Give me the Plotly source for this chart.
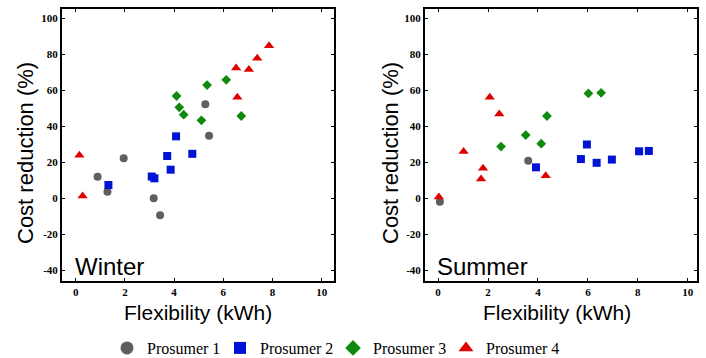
import plotly.graph_objects as go

# ---------------- data ----------------
series_names = ["Prosumer 1", "Prosumer 2", "Prosumer 3", "Prosumer 4"]

winter_p1_x = [0.89, 1.29, 1.95, 3.17, 3.43, 5.27, 5.42]
winter_p1_y = [12.1, 3.8, 22.3, 0.2, -9.3, 52.3, 34.8]
winter_p2_x = [1.33, 3.09, 3.2, 3.72, 3.86, 4.08, 4.74]
winter_p2_y = [7.5, 12.2, 11.2, 23.6, 16.0, 34.5, 24.8]
winter_p3_x = [4.1, 4.21, 4.39, 5.11, 5.34, 6.12, 6.73]
winter_p3_y = [56.9, 50.6, 46.5, 43.4, 63.0, 65.9, 45.8]
winter_p4_x = [0.15, 0.28, 6.52, 6.57, 7.04, 7.38, 7.86]
winter_p4_y = [24.0, 1.4, 72.5, 56.2, 71.6, 77.9, 84.8]

summer_p1_x = [0.07, 3.61]
summer_p1_y = [-1.8, 21.0]
summer_p2_x = [3.92, 5.72, 5.96, 6.35, 6.96, 8.05, 8.44]
summer_p2_y = [17.3, 21.9, 30.0, 19.8, 21.6, 26.2, 26.4]
summer_p3_x = [2.52, 3.51, 4.13, 4.36, 6.02, 6.53]
summer_p3_y = [28.8, 35.2, 30.4, 45.8, 58.3, 58.7]
summer_p4_x = [0.03, 1.02, 1.72, 1.8, 2.07, 2.45, 4.31]
summer_p4_y = [0.9, 26.1, 10.8, 16.8, 56.2, 46.9, 12.6]

x_tick_vals = [0, 2, 4, 6, 8, 10]
x_tick_text = ["0", "2", "4", "6", "8", "10"]
y_tick_vals = [-40, -20, 0, 20, 40, 60, 80, 100]
y_tick_text = ["-40", "-20", "0", "20", "40", "60", "80", "100"]

panel_labels = ["Winter", "Summer"]
x_title = "Flexibility (kWh)"
y_title = "Cost reduction (%)"

# ---------------- style ----------------
colors = ["#5f5f5f", "#0014d6", "#0f8a0f", "#e00000"]
symbols = ["circle", "square", "diamond", "triangle-up"]
sizes = [8, 8, 7.5, 9]
legend_sizes = [13, 12, 12, 13]

fig = go.Figure()

panels = [
    ("x", "y", [(winter_p1_x, winter_p1_y), (winter_p2_x, winter_p2_y),
                (winter_p3_x, winter_p3_y), (winter_p4_x, winter_p4_y)]),
    ("x2", "y2", [(summer_p1_x, summer_p1_y), (summer_p2_x, summer_p2_y),
                  (summer_p3_x, summer_p3_y), (summer_p4_x, summer_p4_y)]),
]
for xa, ya, data in panels:
    for i, (xs, ys) in enumerate(data):
        fig.add_trace(go.Scatter(
            x=xs, y=ys, mode="markers", xaxis=xa, yaxis=ya,
            marker=dict(symbol=symbols[i], color=colors[i], size=sizes[i], line=dict(width=0)),
            showlegend=False, name=series_names[i], hoverinfo="x+y+name"))

# legend entries (one legend per entry so spacing can be set)
legend_ids = ["legend", "legend2", "legend3", "legend4"]
legend_x_px = [107, 220, 333, 446]
for i, name in enumerate(series_names):
    fig.add_trace(go.Scatter(
        x=[None], y=[None], mode="markers", name=name, legend=legend_ids[i],
        marker=dict(symbol=symbols[i], color=colors[i], size=legend_sizes[i], line=dict(width=0)),
        showlegend=True))

W, H = 706, 358
top_px, bot_px = 9, 281
plot_h = bot_px - top_px

def py(p):
    return (bot_px - p) / plot_h

tick_font = dict(family="Liberation Serif", size=11, color="black", weight="bold")
common_axis = dict(
    showline=True, linecolor="black", linewidth=2, mirror="ticks",
    ticks="inside", ticklen=3, tickwidth=1, tickcolor="black",
    showgrid=False, zeroline=False, tickfont=tick_font, automargin=False,
)

fig.update_layout(
    width=W, height=H,
    margin=dict(l=0, r=0, t=top_px, b=H - bot_px, autoexpand=False),
    paper_bgcolor="white", plot_bgcolor="white",
    xaxis=dict(domain=[62 / W, 334 / W], range=[-0.557, 10.5], anchor="y",
               tickvals=x_tick_vals, ticktext=x_tick_text, **common_axis),
    yaxis=dict(domain=[0, 1], range=[-45.8, 105.2], anchor="x",
               tickvals=y_tick_vals, ticktext=y_tick_text, **common_axis),
    xaxis2=dict(domain=[425 / W, 697 / W], range=[-0.525, 10.37], anchor="y2",
                tickvals=x_tick_vals, ticktext=x_tick_text, **common_axis),
    yaxis2=dict(domain=[0, 1], range=[-45.8, 105.2], anchor="x2",
                tickvals=y_tick_vals, ticktext=y_tick_text, **common_axis),
)

leg_common = dict(orientation="h", yanchor="middle", xanchor="left", y=py(348),
                  font=dict(family="Liberation Serif", size=16, color="black"),
                  bgcolor="rgba(0,0,0,0)", borderwidth=0, itemwidth=30)
fig.update_layout(
    legend=dict(x=legend_x_px[0] / W, **leg_common),
    legend2=dict(x=legend_x_px[1] / W, **leg_common),
    legend3=dict(x=legend_x_px[2] / W, **leg_common),
    legend4=dict(x=legend_x_px[3] / W, **leg_common),
)

sans = "Liberation Sans"
anns = [
    dict(text=y_title, x=25 / W, y=py(153), xref="paper", yref="paper", textangle=-90,
         xanchor="center", yanchor="middle",
         showarrow=False, font=dict(family=sans, size=22, color="black")),
    dict(text=y_title, x=390 / W, y=py(153), xref="paper", yref="paper", textangle=-90,
         xanchor="center", yanchor="middle",
         showarrow=False, font=dict(family=sans, size=22, color="black")),
    dict(text=x_title, x=198 / W, y=py(312), xref="paper", yref="paper",
         xanchor="center", yanchor="middle",
         showarrow=False, font=dict(family=sans, size=21, color="black")),
    dict(text=x_title, x=557 / W, y=py(312), xref="paper", yref="paper",
         xanchor="center", yanchor="middle",
         showarrow=False, font=dict(family=sans, size=21, color="black")),
    dict(text=panel_labels[0], x=73 / W, y=py(266), xref="paper", yref="paper",
         xanchor="left", yanchor="middle", showarrow=False,
         font=dict(family=sans, size=24, color="black")),
    dict(text=panel_labels[1], x=435 / W, y=py(266), xref="paper", yref="paper",
         xanchor="left", yanchor="middle", showarrow=False,
         font=dict(family=sans, size=24, color="black")),
]
fig.update_layout(annotations=anns)

fig.write_html("out.html", config={"displayModeBar": False},
               post_script="document.body.style.margin='0px';")
